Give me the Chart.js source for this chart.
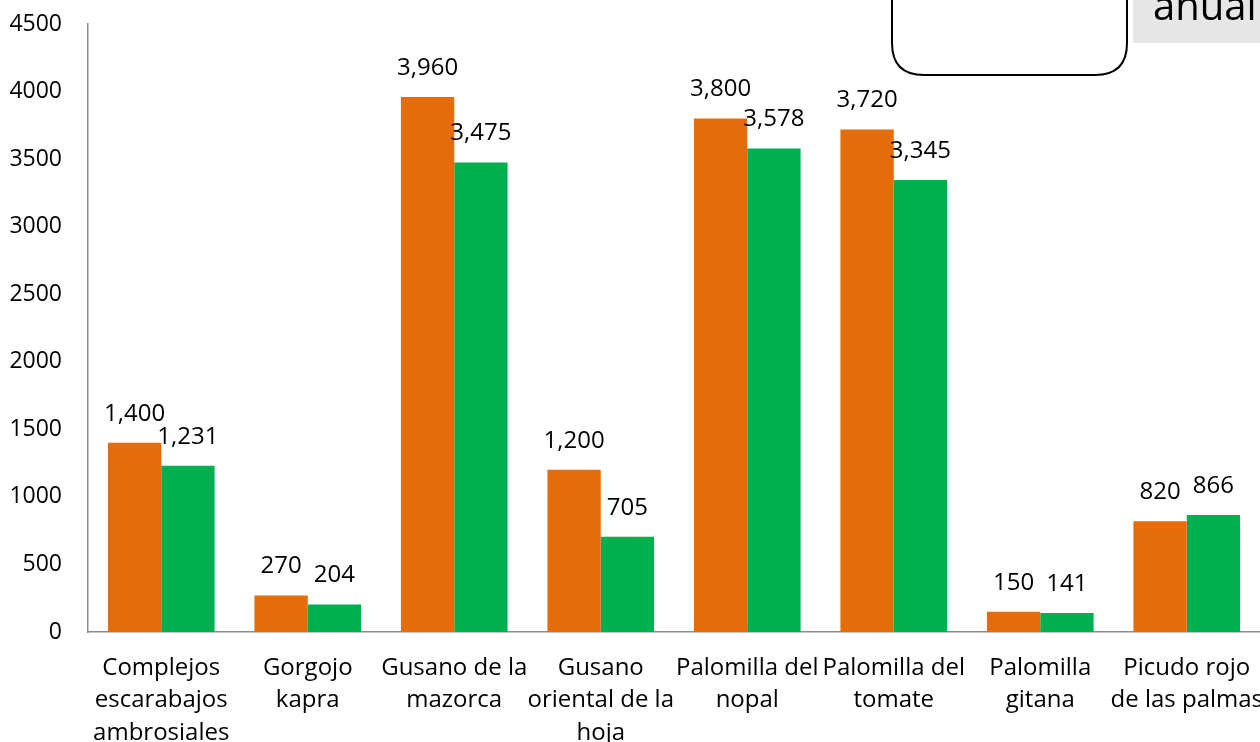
<!DOCTYPE html>
<html>
<head>
<meta charset="utf-8">
<script src="https://cdn.jsdelivr.net/npm/chart.js@4/dist/chart.umd.min.js"></script>
<style>
  html, body { margin: 0; padding: 0; background: #ffffff; }
  #wrap { width: 1260px; height: 742px; position: relative; }
</style>
</head>
<body>
<div id="wrap"><canvas id="c" width="1260" height="742"></canvas></div>
<script>
const categories = [
  ["Complejos", "escarabajos", "ambrosiales"],
  ["Gorgojo", "kapra"],
  ["Gusano de la", "mazorca"],
  ["Gusano", "oriental de la", "hoja"],
  ["Palomilla del", "nopal"],
  ["Palomilla del", "tomate"],
  ["Palomilla", "gitana"],
  ["Picudo rojo", "de las palmas"]
];
const seriesA = [1400, 270, 3960, 1200, 3800, 3720, 150, 820];
const seriesB = [1231, 204, 3475, 705, 3578, 3345, 141, 866];
const seriesNames = ["Serie 1", "Serie 2"];
const yTicks = [0, 500, 1000, 1500, 2000, 2500, 3000, 3500, 4000, 4500];
const cornerText = "anual";

const FONT = "'Open Sans', sans-serif";

const valueLabels = {
  id: 'valueLabels',
  afterDatasetsDraw(chart) {
    const ctx = chart.ctx;
    ctx.save();
    ctx.font = "24px " + FONT;
    ctx.fillStyle = "#000000";
    ctx.textAlign = "center";
    ctx.textBaseline = "middle";
    chart.data.datasets.forEach((ds, i) => {
      const meta = chart.getDatasetMeta(i);
      meta.data.forEach((bar, j) => {
        ctx.fillText(ds.data[j].toLocaleString('en-US'), bar.x, bar.y - 29);
      });
    });
    ctx.restore();
  }
};

const overlay = {
  id: 'overlay',
  afterDraw(chart) {
    const ctx = chart.ctx;
    ctx.save();
    const x0 = 892, x1 = 1127, y0 = -60, y1 = 75, r = 32;
    ctx.beginPath();
    ctx.moveTo(x0, y0);
    ctx.lineTo(x0, y1 - r);
    ctx.quadraticCurveTo(x0, y1, x0 + r, y1);
    ctx.lineTo(x1 - r, y1);
    ctx.quadraticCurveTo(x1, y1, x1, y1 - r);
    ctx.lineTo(x1, y0);
    ctx.closePath();
    ctx.fillStyle = "#ffffff";
    ctx.fill();
    ctx.lineWidth = 2;
    ctx.strokeStyle = "#000000";
    ctx.stroke();
    ctx.fillStyle = "#e6e6e6";
    ctx.fillRect(1133, 0, 130, 43);
    ctx.fillStyle = "#000000";
    ctx.font = "40px " + FONT;
    ctx.textAlign = "left";
    ctx.textBaseline = "alphabetic";
    ctx.fillText(cornerText, 1153, 20);
    ctx.restore();
  }
};

new Chart(document.getElementById('c'), {
  type: 'bar',
  data: {
    labels: categories,
    datasets: [
      { label: seriesNames[0], data: seriesA, backgroundColor: "#E46C0A", borderWidth: 0 },
      { label: seriesNames[1], data: seriesB, backgroundColor: "#00B050", borderWidth: 0 }
    ]
  },
  options: {
    responsive: false,
    animation: false,
    devicePixelRatio: 1,
    layout: { padding: { top: 24, right: 0, left: 0, bottom: 0 } },
    plugins: { legend: { display: false }, tooltip: { enabled: false } },
    datasets: { bar: { categoryPercentage: 0.728, barPercentage: 1.0 } },
    scales: {
      x: {
        grid: { display: false, drawTicks: false },
        border: { display: true, color: "#8c8c8c", width: 1.5 },
        ticks: {
          color: "#000000",
          font: { family: FONT, size: 24, lineHeight: 1.35 },
          padding: 20,
          maxRotation: 0,
          minRotation: 0,
          autoSkip: false
        },
        afterFit(scale) { scale.height = 110; scale.paddingLeft = 0; scale.paddingRight = 0; }
      },
      y: {
        min: 0,
        max: 4500,
        afterBuildTicks(scale) { scale.ticks = yTicks.map(v => ({ value: v })); },
        grid: { display: false, drawTicks: false },
        border: { display: true, color: "#8c8c8c", width: 1.5 },
        ticks: {
          color: "#000000",
          font: { family: FONT, size: 23 },
          padding: 26,
          callback: v => String(v)
        },
        afterFit(scale) { scale.width = 88; scale.paddingTop = 0; scale.paddingBottom = 0; }
      }
    }
  },
  plugins: [valueLabels, overlay]
});
</script>
</body>
</html>
